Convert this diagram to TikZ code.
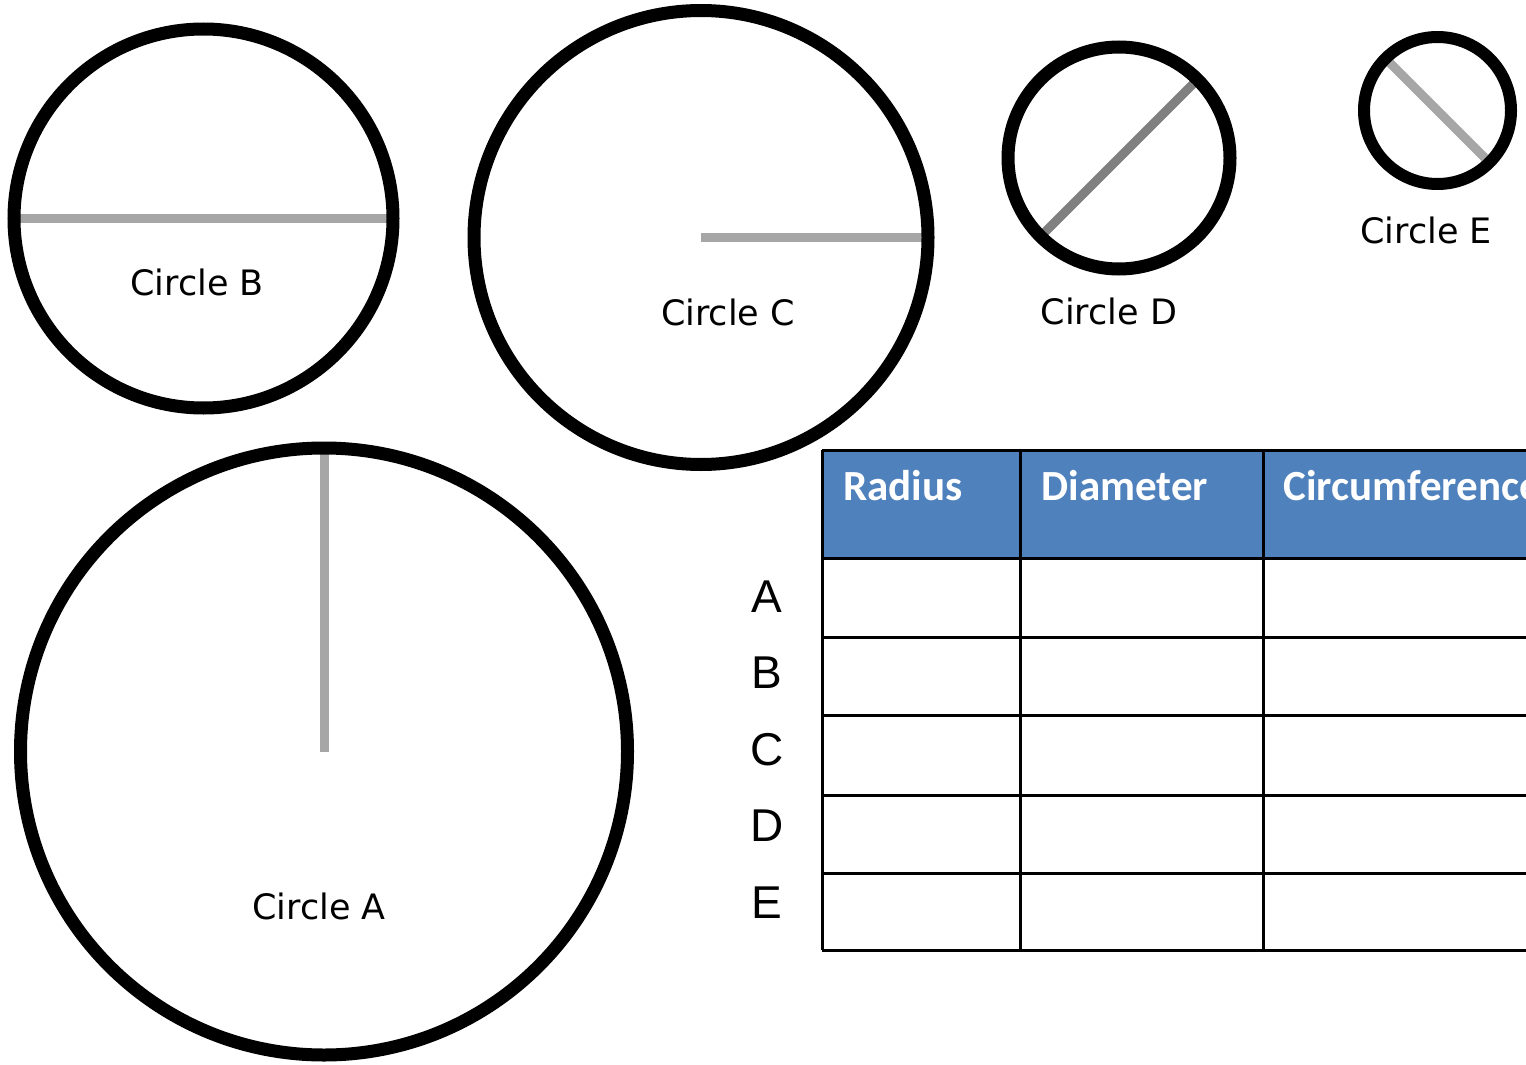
\documentclass[tikz,border=0pt]{standalone}
\usepackage{fontspec}
\usepackage{tikz}
\usetikzlibrary{positioning, backgrounds}
\newfontfamily\handfont{DejaVu Sans}
\newfontfamily\headfont{Carlito}
\newfontfamily\rowfont{Liberation Sans}
\definecolor{header}{RGB}{79, 129, 189}
\definecolor{lightline}{RGB}{166, 166, 166}
\definecolor{darkline}{RGB}{128, 128, 128}

\begin{document}
\begin{tikzpicture}[x=0.5pt, y=-0.5pt,
        disc/.style={circle, draw=black, line width=6.5pt, inner sep=0pt, outer sep=0pt, minimum size=#1},
        measure/.style={draw=#1, line width=4.5pt},
        circlename/.style={font=\handfont\fontsize{17.5}{20}\selectfont, anchor=base, inner sep=0pt},
        tableline/.style={draw=black, line width=1.5pt},
        heading/.style={font=\headfont\bfseries\fontsize{21.5}{25}\selectfont, text=white, anchor=base west, inner sep=0pt},
        rowname/.style={font=\rowfont\fontsize{23}{28}\selectfont, anchor=base, inner sep=0pt}
    ]
    \useasboundingbox (0,0) rectangle (1526,1065);
    \clip (0,0) rectangle (1526,1065);

    % circles
    \node (circB) [disc=189.5pt] at (203.5,218.5) {};
    \node (circC) [disc=227pt] at (701,237.5) {};
    \node (circD) [disc=111pt] at (1119,158) {};
    \node (circE) [disc=73.5pt, line width=6pt] at (1437.5,110.5) {};
    \node (circA) [disc=303.5pt] at (324,751.5) {};

    % radius and diameter lines
    \begin{scope}[on background layer]
        \draw[measure=lightline] (circB.west) -- (circB.east);
        \draw[measure=lightline] (circC.center) -- (circC.east);
        \draw[measure=darkline] (circD.225) -- (circD.45);
        \draw[measure=lightline] (circE.135) -- (circE.315);
        \draw[measure=lightline] (circA.center) -- (circA.north);
    \end{scope}

    \node (nameB) [circlename] at (197,295) {Circle B};
    \node (nameC) [circlename] at (728,325) {Circle C};
    \node (nameD) [circlename] at (1109,324) {Circle D};
    \node (nameE) [circlename] at (1426,243) {Circle E};
    \node (nameA) [circlename] at (319,919) {Circle A};

    % table
    \fill[header] (822,450) rectangle (1540,558);
    \foreach \y in {450,558,637,715,795,873,950}
        \draw[tableline] (822,\y) -- (1540,\y);
    \foreach \x in {822,1020,1263}
        \draw[tableline] (\x,450) -- (\x,950);

    \node (radius) [heading] at (843,500) {Radius};
    \node (diameter) [heading] at (1041,500) {Diameter};
    \node (circumference) [heading] at (1283,500) {Circumference};

    \foreach \name/\y in {A/612, B/688, C/765, D/841, E/918}
        \node (row\name) [rowname] at (767,\y) {\name};
\end{tikzpicture}
\end{document}
